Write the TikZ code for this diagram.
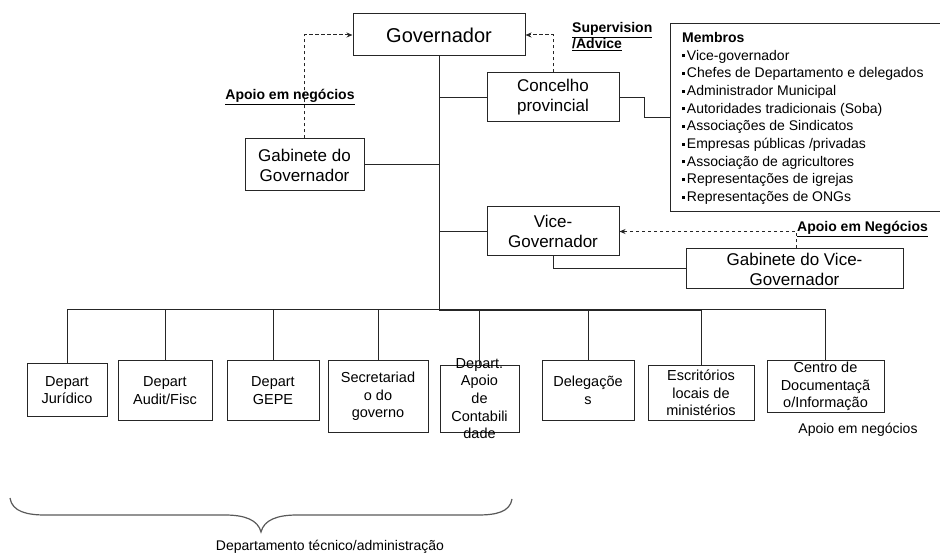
\documentclass[tikz,border=0pt]{standalone}
\usepackage{fontspec}
\setmainfont{Liberation Sans}
\usetikzlibrary{arrows.meta}
% small square bullet used in the member list
\newcommand{\sqbul}{\raisebox{0.2em}{\rule{0.22em}{0.22em}}\hspace{0.12em}}
\begin{document}
\begin{tikzpicture}[x=1pt,y=-1pt,
  line/.style={line width=1pt, draw=black!85},
  box/.style={line, rectangle, inner sep=0pt, align=center},
  topbox/.style={box, font=\fontsize{17}{20}\selectfont},
  depbox/.style={box, font=\fontsize{14.5}{17.7}\selectfont},
  dashlink/.style={line, dash pattern=on 3.5pt off 2.5pt, -{Stealth[length=6pt,width=5pt]}},
  tag/.style={font=\fontsize{14}{16}\selectfont\bfseries, inner sep=0pt},
  plain/.style={font=\fontsize{14}{16}\selectfont, inner sep=0pt},
]
\useasboundingbox (0,0) rectangle (940,553);

% ---- upper part ----
\node[box, font=\fontsize{20}{24}\selectfont, minimum width=172, minimum height=42] (gov) at (439,35) {Governador};
\node[topbox, minimum width=132, minimum height=49] (conc) at (553,97.5) {Concelho\\provincial};
\node[topbox, minimum width=119, minimum height=52] (gabg) at (304.5,165) {Gabinete do\\Governador};
\node[topbox, minimum width=132, minimum height=49] (vice) at (553,231.5) {Vice-\\Governador};
\node[topbox, minimum width=217, minimum height=40] (gabv) at (794.5,269) {Gabinete do Vice-\\Governador};

% member list of the provincial council
\node[box, minimum width=274, minimum height=188, anchor=north west] (memb) at (670,23) {};
\node[anchor=north west, align=left, inner sep=0pt, font=\fontsize{14}{17.7}\selectfont] (membtxt) at (682,32)
  {\textbf{Membros}\\
   \sqbul Vice-governador\\
   \sqbul Chefes de Departamento e delegados\\
   \sqbul Administrador Municipal\\
   \sqbul Autoridades tradicionais (Soba)\\
   \sqbul Associações de Sindicatos\\
   \sqbul Empresas públicas /privadas\\
   \sqbul Associação de agricultores\\
   \sqbul Representações de igrejas\\
   \sqbul Representações de ONGs};

% labels of the support links
\node[tag] (lblgab) at (290,97) {\underline{Apoio em negócios}};
\node[tag, anchor=west, align=left, font=\fontsize{14}{16}\selectfont\bfseries] (lblsup) at (572,37) {\underline{Supervision}\\\underline{/Advice}};
\node[tag, anchor=west] (lblvice) at (797,229) {\underline{Apoio em Negócios}};

% ---- departments ----
\node[depbox, minimum width=80, minimum height=52] (d1) at (67,390) {Depart\\Jurídico};
\node[depbox, minimum width=94, minimum height=59] (d2) at (165,390.5) {Depart\\Audit/Fisc};
\node[depbox, minimum width=92, minimum height=59] (d3) at (273,390.5) {Depart\\GEPE};
\node[depbox, minimum width=100, minimum height=71] (d4) at (378,396.5) {Secretariad\\o do\\governo};
\node[depbox, minimum width=79, minimum height=66] (d5) at (479.5,399) {};
\node[align=center, inner sep=0pt, font=\fontsize{14.5}{17.7}\selectfont] (d5txt) at (479.5,398.5) {Depart.\\Apoio\\de\\Contabili\\dade};
\node[depbox, minimum width=92, minimum height=59] (d6) at (588,390.5) {Delegaçõe\\s};
\node[depbox, minimum width=106, minimum height=54] (d7) at (701,393) {Escritórios\\locais de\\ministérios};
\node[depbox, minimum width=117, minimum height=51] (d8) at (825.5,386.5) {Centro de\\Documentaçã\\o/Informação};
\node[plain] (lblcentro) at (858,430) {Apoio em negócios};

% ---- hierarchy lines ----
\coordinate (bus) at (439,310);
\draw[line] (gov.south) -- (bus);
\draw[line] (gabg.east) -- (gabg.east -| gov.south);
\draw[line] (conc.west) -- (conc.west -| gov.south);
\draw[line] (vice.west) -- (vice.west -| gov.south);
\draw[line] (conc.east) -- ++(25,0) |- (memb.west);
\draw[line] (vice.south) |- (gabv.west);

\draw[line] (d1.north |- bus) -- (d8.north |- bus);
\draw[line, line width=1.8pt] (bus) -- (d7.north |- bus);
\foreach \d in {d1,d2,d3,d4,d5,d6,d7,d8}
  \draw[line] (\d.north |- bus) -- (\d.north);

% ---- support / supervision links ----
\draw[dashlink] (gabg.north) |- (gov.west);
\draw[dashlink] (conc.north) |- (gov.east);
\draw[dashlink] ([xshift=1.5pt]gabv.north) |- (vice.east);

% ---- brace over the technical departments ----
\draw[line width=1.2pt, draw=black!65]
  (10,498) .. controls (12,512) and (28,515) .. (45,515) -- (225,515)
  .. controls (245,515) and (258,520) .. (261,532)
  .. controls (264,520) and (277,515) .. (297,515) -- (478,515)
  .. controls (496,515) and (510,512) .. (512,499);
\node[plain] (lblbrace) at (330,547) {Departamento técnico/administração};
\end{tikzpicture}
\end{document}
